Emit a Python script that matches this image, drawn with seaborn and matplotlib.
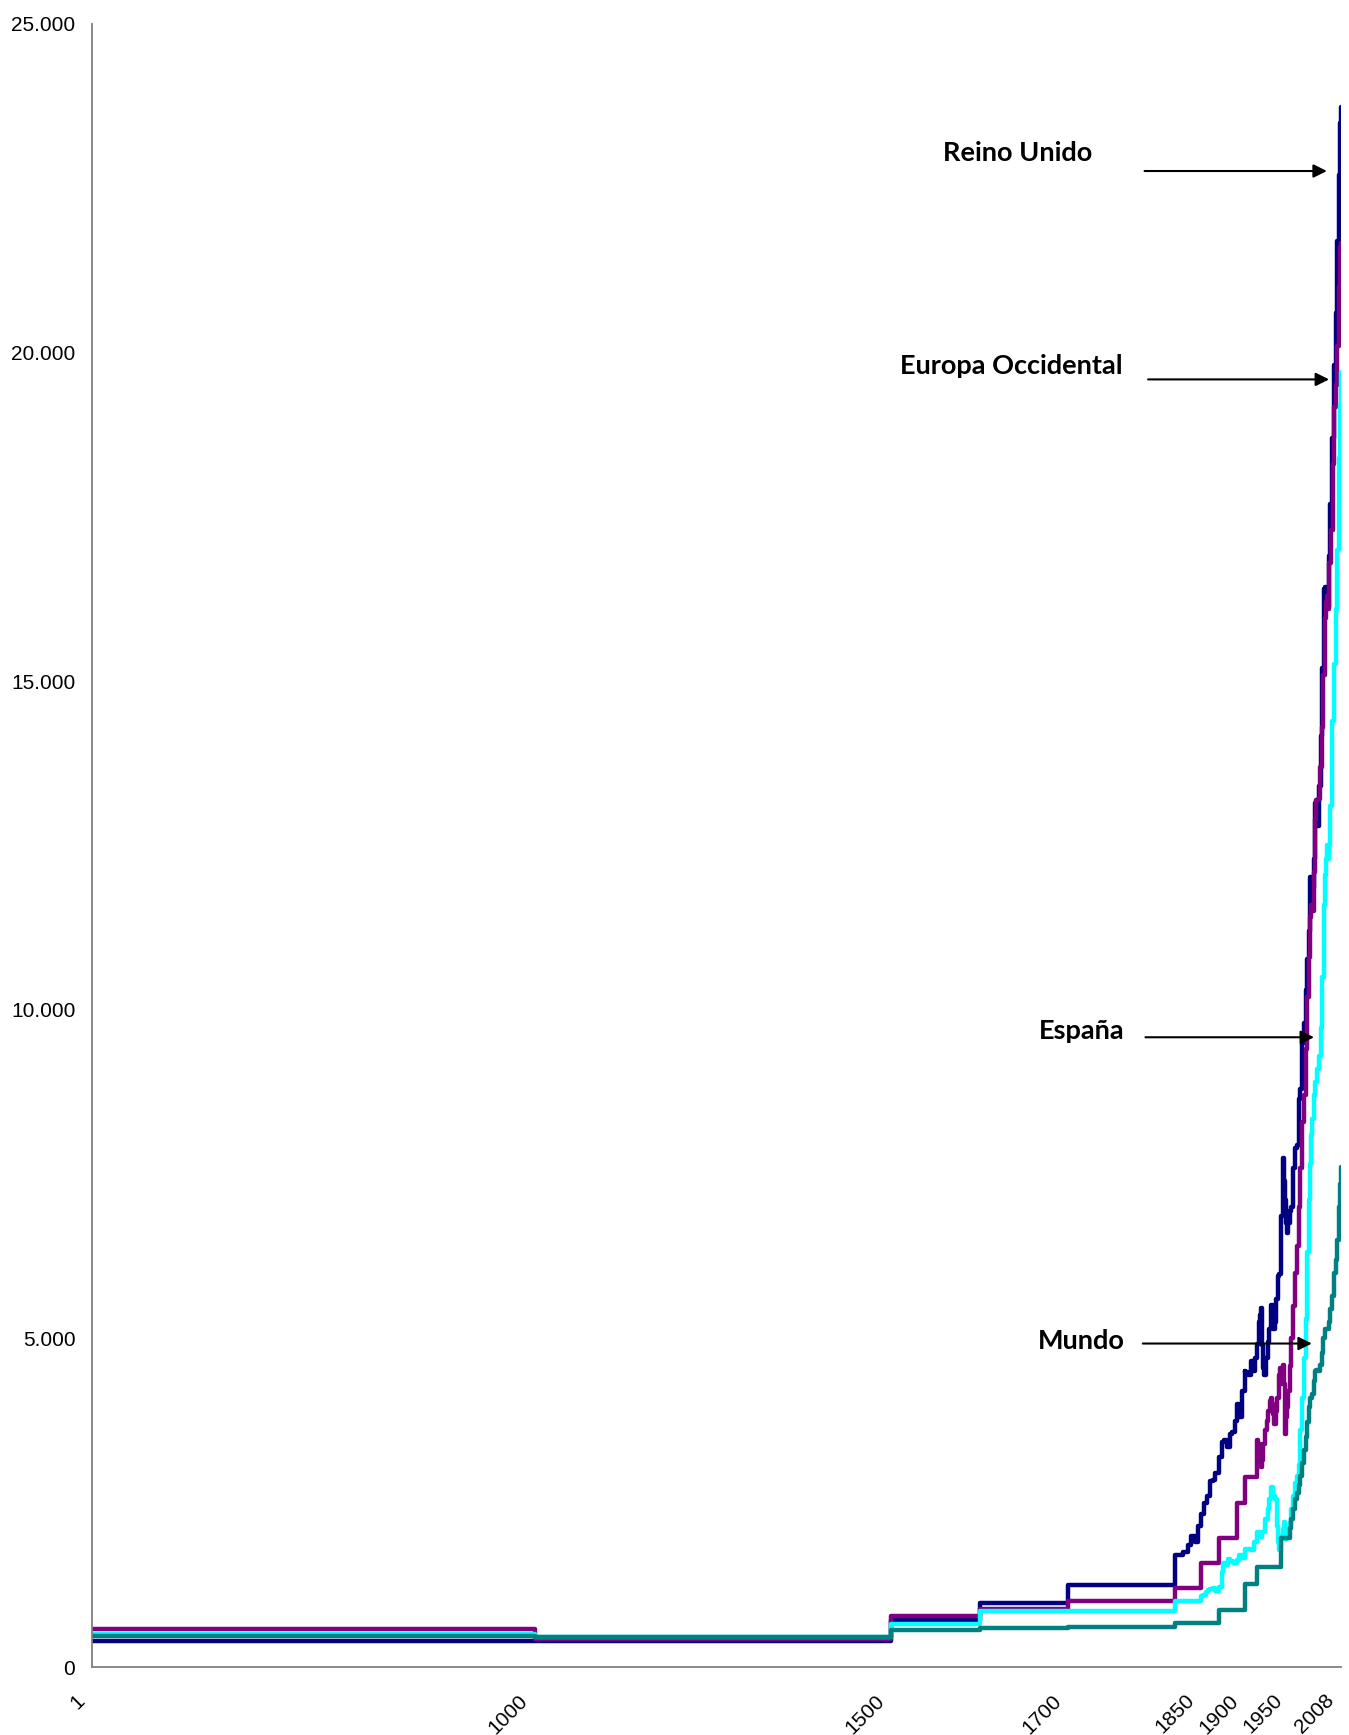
import numpy as np
import pandas as pd
import matplotlib
matplotlib.use('Agg')
import matplotlib.pyplot as plt
from matplotlib.ticker import FuncFormatter
from matplotlib.transforms import ScaledTranslation
import seaborn as sns

# PIB per capita (dolares 1990).
anio_uk = [1, 1000, 1500, 1600, 1700, 1820, 1830, 1835, 1838, 1840, 1843, 1846, 1850, 1853,
           1856, 1860, 1863, 1866, 1870, 1873, 1876, 1879, 1882, 1885, 1888, 1890, 1893, 1896,
           1899, 1900, 1903, 1906, 1909, 1911, 1913, 1915, 1917, 1918, 1919, 1920, 1921, 1923,
           1925, 1927, 1929, 1931, 1933, 1935, 1937, 1938, 1940, 1942, 1943, 1944, 1945, 1946,
           1947, 1948, 1950, 1952, 1954, 1956, 1958, 1960, 1962, 1964, 1966, 1968, 1970, 1972,
           1973, 1974, 1975, 1977, 1979, 1980, 1981, 1983, 1985, 1987, 1989, 1990, 1991, 1992,
           1994, 1996, 1998, 2000, 2002, 2004, 2006, 2007, 2008]
pib_uk = [400, 400, 714, 974, 1250, 1706, 1749, 1850, 2000, 1990, 1900, 2150, 2330, 2500,
          2600, 2830, 2850, 2950, 3190, 3420, 3450, 3350, 3550, 3574, 3750, 4009, 3800, 4200,
          4500, 4492, 4450, 4650, 4500, 4700, 4921, 5250, 5350, 5459, 4900, 4548, 4439, 4700,
          4950, 5150, 5503, 5138, 5250, 5600, 5950, 5983, 6856, 7600, 7750, 7400, 7100, 6750,
          6604, 6750, 6939, 7000, 7600, 7900, 7950, 8645, 8800, 9500, 9800, 10300, 10767, 11200,
          12025, 11800, 11847, 12300, 13150, 12931, 12800, 13400, 14165, 15200, 16400, 16430, 16100, 16133,
          16900, 17700, 18700, 19817, 20600, 21700, 22700, 23500, 23742]

anio_eo = [1, 1000, 1500, 1600, 1700, 1820, 1850, 1870, 1890, 1900, 1913, 1914, 1915, 1916,
           1917, 1918, 1919, 1920, 1922, 1924, 1926, 1928, 1929, 1930, 1931, 1932, 1934, 1936,
           1938, 1939, 1940, 1941, 1942, 1943, 1944, 1945, 1946, 1947, 1948, 1950, 1952, 1954,
           1956, 1958, 1960, 1962, 1964, 1966, 1968, 1970, 1972, 1973, 1974, 1975, 1977, 1979,
           1980, 1982, 1984, 1986, 1988, 1990, 1991, 1992, 1993, 1995, 1997, 1999, 2000, 2002,
           2004, 2006, 2007, 2008]
pib_eo = [576, 427, 771, 889, 997, 1202, 1580, 1960, 2490, 2885, 3457, 3250, 3300, 3400,
          3350, 3050, 3150, 3400, 3600, 3750, 3900, 4050, 4100, 4000, 3850, 3700, 3900, 4100,
          4450, 4550, 4300, 4400, 4550, 4600, 4300, 3550, 3800, 3950, 4200, 4579, 5000, 5500,
          6000, 6400, 7000, 7600, 8300, 8700, 9400, 10200, 10800, 11416, 11600, 11500, 12100, 12900,
          13197, 13200, 13700, 14300, 15100, 15966, 16200, 16300, 16100, 16800, 17300, 18300, 19176, 19500,
          20100, 21000, 21600, 21672]

anio_es = [1, 1000, 1500, 1600, 1700, 1820, 1850, 1852, 1855, 1858, 1860, 1863, 1866, 1870,
           1873, 1875, 1878, 1880, 1883, 1886, 1890, 1893, 1896, 1900, 1903, 1906, 1910, 1913,
           1916, 1919, 1922, 1925, 1927, 1929, 1931, 1933, 1935, 1936, 1937, 1938, 1940, 1942,
           1944, 1945, 1947, 1950, 1952, 1954, 1956, 1958, 1960, 1962, 1964, 1966, 1968, 1970,
           1972, 1973, 1974, 1975, 1977, 1979, 1981, 1983, 1985, 1987, 1989, 1990, 1991, 1992,
           1993, 1994, 1996, 1998, 2000, 2002, 2004, 2006, 2007, 2008]
pib_es = [498, 450, 661, 853, 853, 1008, 1079, 1100, 1140, 1170, 1180, 1200, 1160, 1210,
          1450, 1580, 1550, 1640, 1620, 1580, 1630, 1700, 1660, 1790, 1800, 1780, 1900, 2060,
          1980, 2050, 2250, 2400, 2550, 2740, 2600, 2550, 2550, 2150, 1900, 1780, 2000, 2100,
          2200, 1950, 2100, 2189, 2400, 2600, 2800, 2900, 3072, 3600, 4100, 4700, 5300, 6319,
          7100, 7661, 8100, 8346, 8700, 8900, 9100, 9300, 9722, 10500, 11600, 12055, 12300, 12500,
          12300, 12500, 13100, 14400, 15269, 16100, 17000, 18400, 19200, 19706]

anio_mu = [1, 1000, 1500, 1600, 1700, 1820, 1870, 1900, 1913, 1940, 1950, 1952, 1954, 1956,
           1958, 1960, 1962, 1964, 1966, 1968, 1970, 1972, 1973, 1975, 1977, 1979, 1980, 1982,
           1984, 1986, 1988, 1990, 1992, 1994, 1996, 1998, 2000, 2002, 2004, 2006, 2007, 2008]
pib_mu = [467, 450, 566, 596, 615, 667, 870, 1262, 1525, 1958, 2111, 2250, 2400, 2550,
          2650, 2773, 2900, 3100, 3300, 3500, 3729, 3950, 4091, 4150, 4350, 4500, 4520, 4500,
          4600, 4780, 5000, 5150, 5140, 5250, 5450, 5650, 6000, 6200, 6500, 7000, 7350, 7614]

series = ['Reino Unido', 'Europa Occidental', 'España', 'Mundo']
colores = {'Reino Unido': '#000080', 'Europa Occidental': '#800080',
           'España': '#00FFFF', 'Mundo': '#008080'}

anios_ticks = [1, 1000, 1500, 1700, 1850, 1900, 1950, 2008]

# el eje x del original no es lineal en anios (filas de la hoja)
tramo_anios = [1, 1000, 1500, 2008]
tramo_pos = [0, 443, 799.5, 1249]

# etiquetas: texto (anio, valor) y flecha desde / hasta
pos_texto = [(1642, 22915), (1635, 19675), (1715, 9563), (1714, 4834)]
flecha_desde = [(1786, 22763), (1790, 19592), (1787, 9582), (1784, 4922)]
flecha_hasta = [(1992, 22763), (1994.5, 19592), (1977.5, 9582), (1975, 4922)]

df = pd.concat([
    pd.DataFrame({'anio': anio_uk, 'pib': pib_uk, 'serie': 'Reino Unido'}),
    pd.DataFrame({'anio': anio_eo, 'pib': pib_eo, 'serie': 'Europa Occidental'}),
    pd.DataFrame({'anio': anio_es, 'pib': pib_es, 'serie': 'España'}),
    pd.DataFrame({'anio': anio_mu, 'pib': pib_mu, 'serie': 'Mundo'}),
], ignore_index=True)

sns.set_theme(style='white')
plt.rcParams['font.family'] = ['Liberation Sans', 'DejaVu Sans']

fig = plt.figure(figsize=(13.49, 17.35), dpi=100)
ax = fig.add_axes([92 / 1349, 68 / 1735, 1249 / 1349, 1643 / 1735])

sns.lineplot(data=df, x='anio', y='pib', hue='serie', hue_order=series, palette=colores,
             estimator=None, drawstyle='steps-post', linewidth=3.2, legend=False, ax=ax)


def fwd(x):
    return np.interp(x, tramo_anios, tramo_pos)


def inv(x):
    return np.interp(x, tramo_pos, tramo_anios)


ax.set_xscale('function', functions=(fwd, inv))
ax.set_xlim(1, 2008)
ax.set_ylim(0, 25000)
ax.set_xticks(anios_ticks)
ax.set_xticklabels([str(a) for a in anios_ticks])
ax.set_yticks(range(0, 25001, 5000))
ax.yaxis.set_major_formatter(FuncFormatter(lambda v, p: f'{v:,.0f}'.replace(',', '.')))
ax.set_xlabel('')
ax.set_ylabel('')

for s in ['top', 'right']:
    ax.spines[s].set_visible(False)
for s in ['left', 'bottom']:
    ax.spines[s].set_color('#808080')
    ax.spines[s].set_linewidth(1.3)

ax.tick_params(axis='y', length=0, pad=12, labelsize=15, colors='black')
ax.tick_params(axis='x', length=0, pad=22, labelsize=15, colors='black')
desplaza = ScaledTranslation(-10 / 100, 0, fig.dpi_scale_trans)
for lab in ax.get_xticklabels():
    lab.set_rotation(45)
    lab.set_ha('right')
    lab.set_va('center')
    lab.set_rotation_mode('anchor')
    lab.set_transform(lab.get_transform() + desplaza)

for nombre, (tx, ty), a, b in zip(series, pos_texto, flecha_desde, flecha_hasta):
    ax.text(tx, ty, nombre, ha='center', va='baseline', fontsize=19.5,
            fontweight='bold', family=['Lato', 'DejaVu Sans'], color='black')
    ax.annotate('', xy=b, xytext=a,
                arrowprops=dict(arrowstyle='-|>', color='black', lw=1.5,
                                mutation_scale=20, shrinkA=0, shrinkB=0))

fig.savefig('out.png', dpi=100)
